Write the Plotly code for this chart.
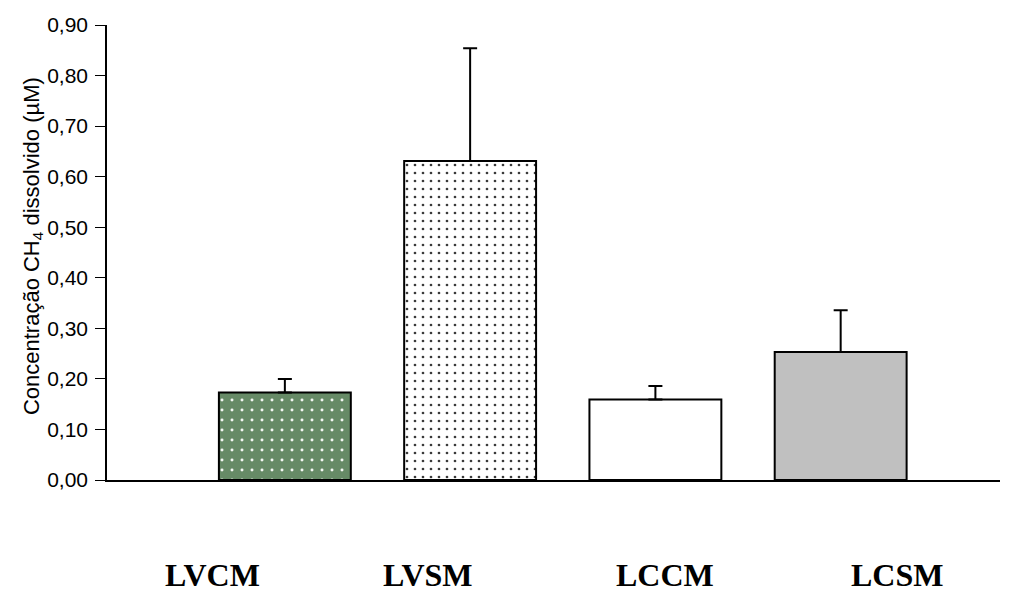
import plotly.graph_objects as go

categories = ["LVCM", "LVSM", "LCCM", "LCSM"]
means = [0.173, 0.631, 0.159, 0.253]
errors = [0.027, 0.223, 0.027, 0.083]
y_ticks = [0.0, 0.1, 0.2, 0.3, 0.4, 0.5, 0.6, 0.7, 0.8, 0.9]

# styling per bar
fills = ["#668a66", "#ffffff", "#ffffff", "#c0c0c0"]
pat_shapes = [".", ".", "", ""]
pat_fg = ["#f4f8f4", "#3a3a3a", "#000000", "#000000"]
pat_size = [10, 8, 8, 8]
pat_solid = [0.07, 0.09, 0.1, 0.1]
label_x = [0.1176, 0.3595, 0.6249, 0.8847]

fig = go.Figure()
for i, cat in enumerate(categories):
    fig.add_trace(go.Bar(
        x=[cat], y=[means[i]],
        width=0.712,
        marker=dict(
            color=fills[i],
            line=dict(color="#000000", width=2),
            pattern=dict(shape=pat_shapes[i], bgcolor=fills[i], fgcolor=pat_fg[i],
                         size=pat_size[i], solidity=pat_solid[i], fillmode="replace"),
        ),
        error_y=dict(type="data", symmetric=False, array=[errors[i]], arrayminus=[0],
                     color="#000000", thickness=2, width=7),
        showlegend=False,
    ))

for i, cat in enumerate(categories):
    fig.add_annotation(x=label_x[i], y=-0.2088, xref="paper", yref="paper",
                       text="<b>" + cat + "</b>", showarrow=False,
                       xanchor="center", yanchor="middle",
                       font=dict(family="Liberation Serif", size=32, color="#000000"))

fig.add_annotation(x=-0.0829, y=0.514, xref="paper", yref="paper",
                   text="Concentração CH<sub>4</sub> dissolvido (µM)", textangle=-90,
                   showarrow=False, xanchor="center", yanchor="middle",
                   font=dict(family="Liberation Sans", size=22, color="#000000"))

fig.update_layout(
    width=1009, height=606,
    margin=dict(l=107, r=9, t=25, b=126),
    paper_bgcolor="#ffffff", plot_bgcolor="#ffffff",
    separators=", ",
    font=dict(family="Liberation Sans", size=21, color="#000000"),
    xaxis=dict(type="category", categoryorder="array", categoryarray=categories,
               range=[-0.96, 3.86], showticklabels=False, ticks="",
               showline=True, linecolor="#000000", linewidth=1.5, showgrid=False,
               zeroline=False),
    yaxis=dict(range=[0, 0.9], tickvals=y_ticks, tickformat=".2f",
               ticks="outside", ticklen=10, tickwidth=1, tickcolor="#000000",
               showline=True, linecolor="#000000", linewidth=1.5, showgrid=False,
               zeroline=False, ticklabelstandoff=3,
               tickfont=dict(family="Liberation Sans", size=21, color="#000000")),
)

fig.write_html("out.html")
